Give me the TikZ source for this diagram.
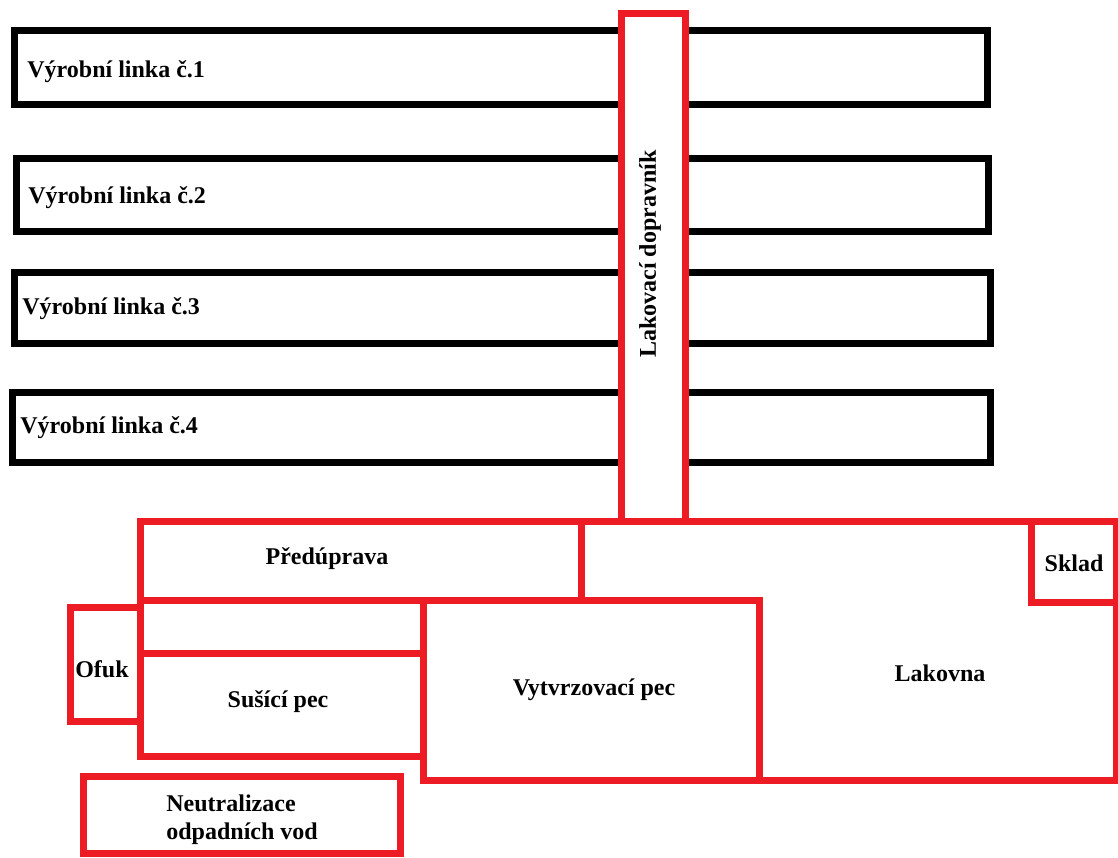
\documentclass[tikz,border=0pt]{standalone}
\usepackage{fontspec}
\setmainfont{Liberation Serif}
\usepackage{tikz}
\definecolor{plred}{RGB}{237,28,36}
\tikzstyle{linka} = [draw=black, line width=3.5pt]
\tikzstyle{hala} = [draw=plred, line width=3.5pt]
\tikzstyle{popis} = [font=\bfseries\fontsize{12}{14}\selectfont, inner sep=0pt, yshift=-1pt]

\begin{document}
\begin{tikzpicture}[x=0.5pt,y=-0.5pt]
        \useasboundingbox (0,0) rectangle (1118,857);

        % vyrobni linky
        \draw[linka] (14,30) rectangle (987,104);
        \draw[linka] (16,158) rectangle (988,231);
        \draw[linka] (14,272) rectangle (990,343);
        \draw[linka] (12,392) rectangle (990,462);

        \node (L1) [popis, anchor=west] at (27,70) {Výrobní linka č.1};
        \node (L2) [popis, anchor=west] at (28,196) {Výrobní linka č.2};
        \node (L3) [popis, anchor=west] at (22,307) {Výrobní linka č.3};
        \node (L4) [popis, anchor=west] at (20,426) {Výrobní linka č.4};

        % dopravnik
        \draw[hala, fill=white] (621,13) rectangle (685,521);
        \node (LD) [popis, rotate=90, yshift=1pt, xshift=1pt] at (652,254) {Lakovací dopravník};

        % lakovna
        \draw[hala] (140,521) rectangle (581,600);
        \draw[hala] (581,521) -- (1116,521) -- (1116,780) -- (759,780);
        \draw[hala] (1031,521) rectangle (1116,602);
        \draw[hala] (423,600) rectangle (759,780);
        \draw[hala] (140,600) rectangle (423,653);
        \draw[hala] (140,653) rectangle (423,756);
        \draw[hala] (70,607) rectangle (140,721);
        \draw[hala] (83,776) rectangle (400,853);

        \node (PU) [popis] at (327,557) {Předúprava};
        \node (SK) [popis] at (1074,561) {Sklad};
        \node (OF) [popis] at (102,667) {Ofuk};
        \node (SP) [popis] at (278,700) {Sušící pec};
        \node (VP) [popis] at (594,688) {Vytvrzovací pec};
        \node (LK) [popis] at (940,671) {Lakovna};
        \node (NV) [popis, anchor=west, align=left] at (166,818) {Neutralizace\\odpadních vod};

    \end{tikzpicture}
\end{document}
